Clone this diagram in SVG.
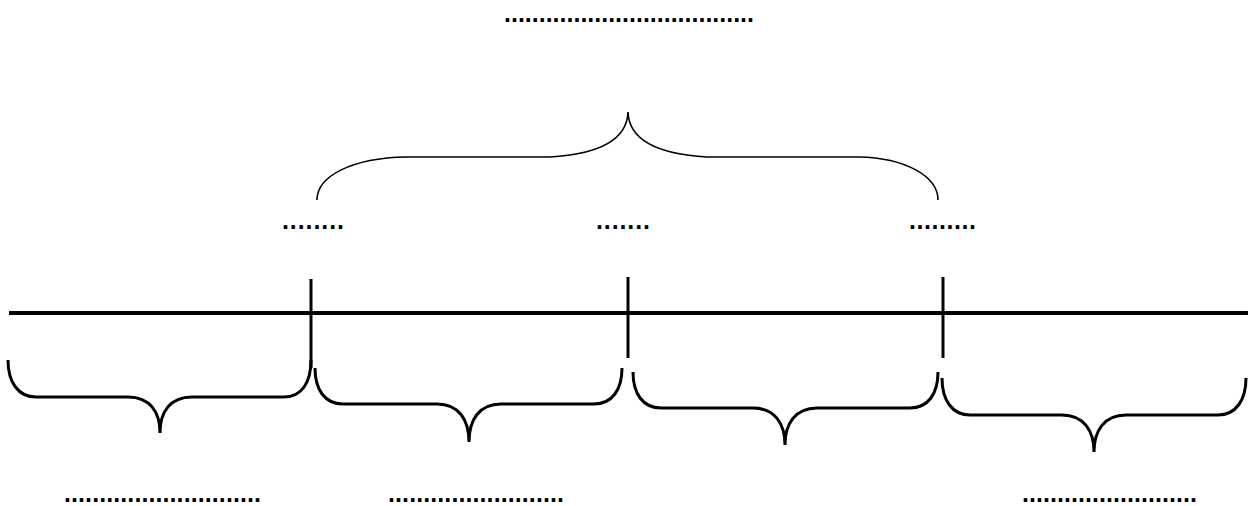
<svg xmlns="http://www.w3.org/2000/svg" width="1248" height="506" viewBox="0 0 1248 506">
<style>
.dots{font-family:"Liberation Sans",Arial,sans-serif;font-weight:bold;font-size:25px;fill:#000}
.axis{stroke:#000;stroke-width:4;fill:none}
.tick{stroke:#000;stroke-width:3;fill:none}
.brace{stroke:#000;stroke-width:3;fill:none;stroke-linecap:butt}
.brace-top{stroke:#000;stroke-width:1.6;fill:none}
</style>
<rect width="1248" height="506" fill="#fff"/>
<g id="title"><text class="dots" x="504" y="22" textLength="250" lengthAdjust="spacing">....................................</text></g>
<g id="label-left"><text class="dots" x="282" y="229" textLength="62" lengthAdjust="spacing">........</text></g>
<g id="label-center"><text class="dots" x="596" y="229" textLength="54" lengthAdjust="spacing">.......</text></g>
<g id="label-right"><text class="dots" x="909" y="229" textLength="67" lengthAdjust="spacing">.........</text></g>
<g id="bottom-left"><text class="dots" x="64" y="502" textLength="197" lengthAdjust="spacing">............................</text></g>
<g id="bottom-mid"><text class="dots" x="388" y="502" textLength="176" lengthAdjust="spacing">.........................</text></g>
<g id="bottom-right"><text class="dots" x="1022" y="502" textLength="175" lengthAdjust="spacing">.........................</text></g>
<g id="connectors">
<line class="axis" x1="9" y1="313" x2="1248" y2="313"/>
<line class="tick" x1="311" y1="279" x2="311" y2="368"/>
<line class="tick" x1="628" y1="277" x2="628" y2="358"/>
<line class="tick" x1="943" y1="277" x2="943" y2="358"/>
<path class="brace-top" d="M317,200 C317,176 352,158 406,157 L550,157 C600,154 627,140 628,112 C629,140 656,154 707,157 L859,157 C905,158 938,176 938,200"/>
<path class="brace" d="M8,360 C8,382 18,397 36,397 L128,397 C150,397 160,412 160,433 M160,433 C160,412 170,397 192,397 L284,397 C302,397 311,382 311,360"/>
<path class="brace" d="M315,368 C315,390 325,404 343,404 L437,404 C459,404 469,420 469,442 M469,442 C469,420 479,404 501,404 L594,404 C612,404 622,390 622,368"/>
<path class="brace" d="M633,372 C633,394 643,408 661,408 L753,408 C775,408 785,424 785,445 M785,445 C785,424 795,408 817,408 L910,408 C928,408 938,394 938,372"/>
<path class="brace" d="M942,378 C942,400 952,415 970,415 L1062,415 C1084,415 1094,431 1094,452 M1094,452 C1094,431 1104,415 1126,415 L1218,415 C1236,415 1246,400 1246,378"/>
</g>
</svg>
